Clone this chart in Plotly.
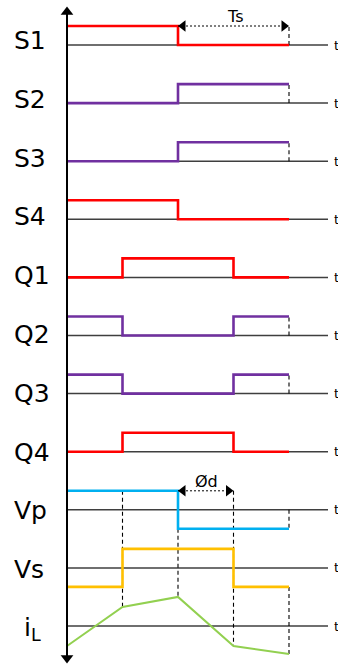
import plotly.graph_objects as go

# ---------------- data ----------------
signal_names = ["S1", "S2", "S3", "S4", "Q1", "Q2", "Q3", "Q4", "Vp", "Vs"]
# level in each quarter of the period (1 = high, 0 = zero, -1 = negative)
S1 = [1, 1, 0, 0]
S2 = [0, 0, 1, 1]
S3 = [0, 0, 1, 1]
S4 = [1, 1, 0, 0]
Q1 = [0, 1, 1, 0]
Q2 = [1, 0, 0, 1]
Q3 = [1, 0, 0, 1]
Q4 = [0, 1, 1, 0]
Vp = [1, 1, -1, -1]
Vs = [-1, 1, 1, -1]
signal_levels = [S1, S2, S3, S4, Q1, Q2, Q3, Q4, Vp, Vs]
signal_colors = ["#FF0000", "#7030A0", "#7030A0", "#FF0000", "#FF0000",
                 "#7030A0", "#7030A0", "#FF0000", "#00B0F0", "#FFC000"]
times = [0, 1, 2, 3, 4]
iL = [-1.05, 1.0, 1.53, -1.05, -1.47]          # inductor current at each time
row_labels = ["S1", "S2", "S3", "S4", "Q1", "Q2", "Q3", "Q4", "Vp", "Vs", "i<sub>L</sub>"]
# dashed guides: (time, row_from, level_from, row_to, level_to)
guides = [
    (4, 0, 0, 0, 1), (4, 1, 0, 1, 1), (4, 2, 0, 2, 1),
    (4, 5, 0, 5, 1), (4, 6, 0, 6, 1), (4, 8, 0, 8, -1),
    (1, 8, 1, 10, iL[1]), (2, 8, -1, 10, iL[2]),
    (3, 8, 1, 10, iL[3]), (4, 9, -1, 10, iL[4]),
]

# ---------------- layout helpers ----------------
W, H = 338, 664
X0, XS = 67, 55.5           # pixel of t=0, pixels per time unit
Y0, YS = 45, 58.1           # pixel of first baseline, pixels per row
AMP = 19 / YS               # signal amplitude in row units
AXIS_END = (328 - X0) / XS


def tx(px):
    return (px - X0) / XS


def ry(px):
    return -(px - Y0) / YS


def lvl(row, level):
    return -row + AMP * level


fig = go.Figure()

# baselines
for i in range(len(row_labels)):
    fig.add_trace(go.Scatter(x=[0, AXIS_END], y=[-i, -i], mode="lines",
                             line=dict(color="#3f3f3f", width=1.5), hoverinfo="skip"))

# dashed guides
for t, r0, l0, r1, l1 in guides:
    fig.add_trace(go.Scatter(x=[t, t], y=[lvl(r0, l0), lvl(r1, l1)], mode="lines",
                             line=dict(color="black", width=1.1, dash="4px,3px"),
                             hoverinfo="skip"))

# step signals
for i, (levels, col) in enumerate(zip(signal_levels, signal_colors)):
    ys = [lvl(i, v) for v in levels + [levels[-1]]]
    fig.add_trace(go.Scatter(x=times, y=ys, mode="lines", line_shape="hv",
                             line=dict(color=col, width=2.6), hoverinfo="skip"))

# inductor current
fig.add_trace(go.Scatter(x=times, y=[lvl(10, v) for v in iL], mode="lines",
                         line=dict(color="#92D050", width=2), hoverinfo="skip"))

# vertical axis with arrows
fig.add_trace(go.Scatter(x=[0, 0], y=[ry(12), ry(658)], mode="lines",
                         line=dict(color="black", width=2), hoverinfo="skip"))
fig.add_trace(go.Scatter(x=[0, 0], y=[ry(12), ry(658)], mode="markers",
                         marker=dict(symbol=["triangle-up", "triangle-down"], size=11,
                                     color="black"), hoverinfo="skip"))

# Ts and phi_d dimension arrows
for (ta, tb, row, level) in [(2, 4, 0, 1), (2, 3, 8, 1)]:
    yv = lvl(row, level)
    fig.add_trace(go.Scatter(x=[ta, tb], y=[yv, yv], mode="lines",
                             line=dict(color="black", width=1, dash="2px,2px"),
                             hoverinfo="skip"))
    fig.add_trace(go.Scatter(x=[ta + 5 / XS, tb - 5 / XS], y=[yv, yv], mode="markers",
                             marker=dict(symbol=["triangle-left", "triangle-right"],
                                         size=10, color="black"), hoverinfo="skip"))

font = "DejaVu Sans"
ann = []
for i, lab in enumerate(row_labels):
    xpx = 22 if i == 10 else 12
    ann.append(dict(x=tx(xpx), y=ry(40.5 + i * 58.8), text=lab, showarrow=False,
                    xanchor="left", yanchor="middle",
                    font=dict(family=font, size=25, color="black")))
    ann.append(dict(x=tx(332), y=-i, text="t", showarrow=False, xanchor="left",
                    yanchor="middle", font=dict(family=font, size=13, color="black")))
ann.append(dict(x=tx(235), y=ry(16.5), text="Ts", showarrow=False,
                font=dict(family=font, size=16, color="black")))
ann.append(dict(x=tx(206), y=ry(481), text="Ød", showarrow=False,
                font=dict(family=font, size=16, color="black")))

fig.update_layout(
    width=W, height=H, margin=dict(l=0, r=0, t=0, b=0),
    paper_bgcolor="white", plot_bgcolor="white", showlegend=False,
    xaxis=dict(range=[tx(0), tx(W)], visible=False, fixedrange=True),
    yaxis=dict(range=[ry(H), ry(0)], visible=False, fixedrange=True),
    annotations=ann,
)

fig.write_html("out.html", config={"displayModeBar": False},
               post_script="document.body.style.margin='0';"
                           "document.body.style.overflow='hidden';")
